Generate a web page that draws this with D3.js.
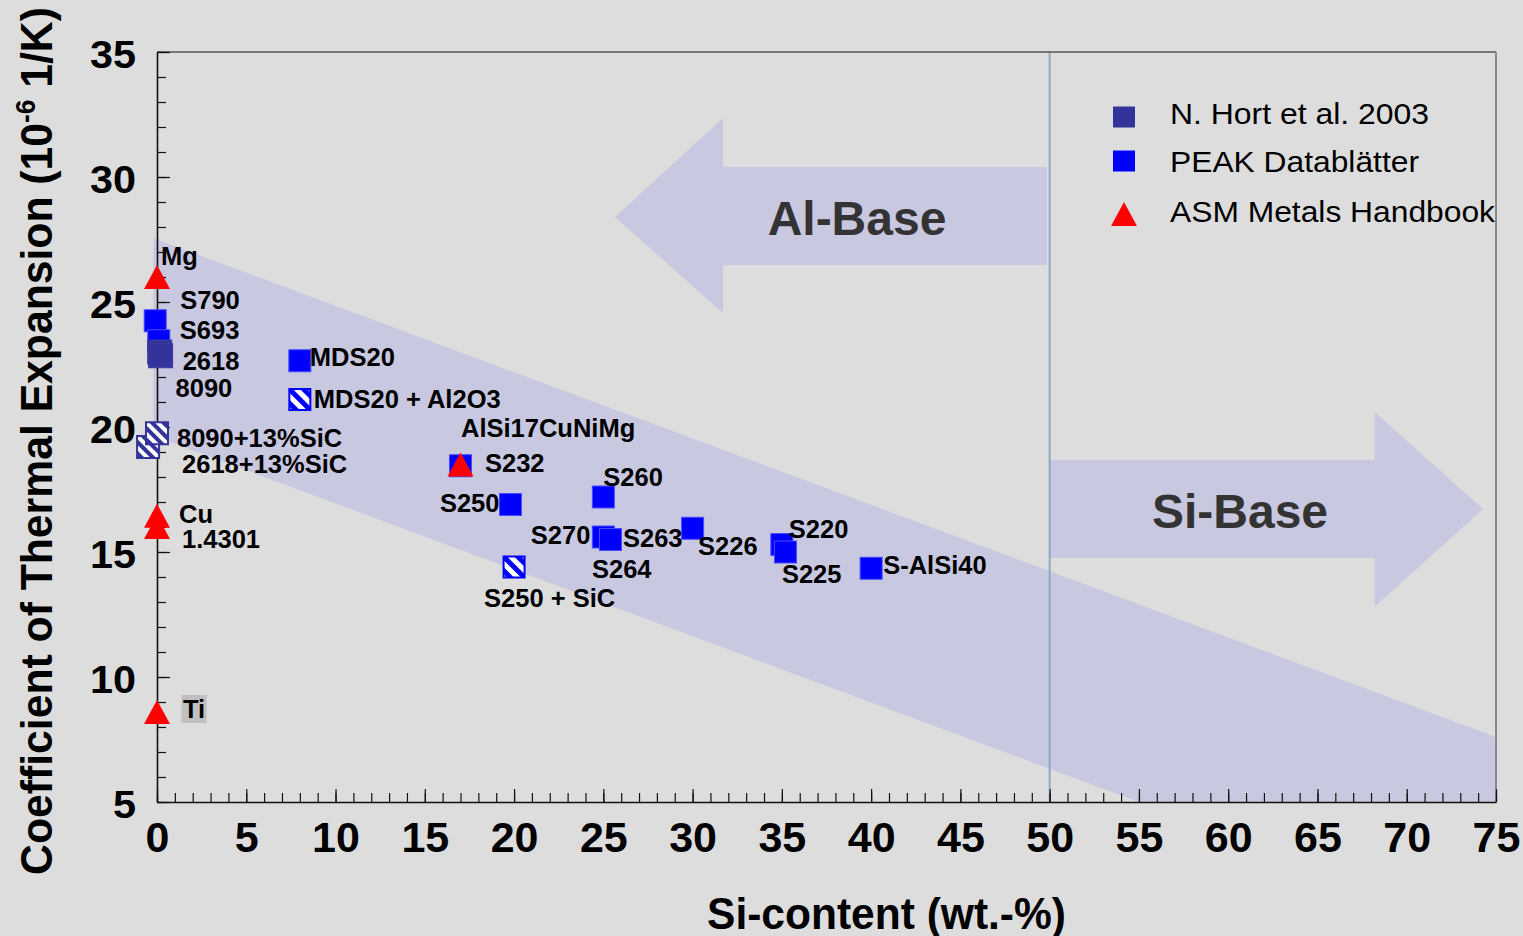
<!DOCTYPE html>
<html>
<head>
<meta charset="utf-8">
<title>Coefficient of Thermal Expansion vs. Si-content</title>
<script src="https://cdn.jsdelivr.net/npm/d3@7"></script>
<style>
  html, body { margin: 0; padding: 0; background: #dddddd; }
  svg { display: block; }
</style>
</head>
<body>
<svg id="chart" width="1523" height="936"></svg>
<script>
// ---- Data: Si-content (wt.-%) and CTE (10^-6 1/K) ----
// N. Hort et al. 2003 (monolithic alloys)
const hortNames = ["2618", "8090"];
const hortSi    = [0.15, 0.2];
const hortCte   = [23.0, 22.85];
// N. Hort et al. 2003 (SiC reinforced)
const hortCompNames = ["2618+13%SiC", "8090+13%SiC"];
const hortCompSi    = [-0.5, 0];
const hortCompCte   = [19.2, 19.75];
// PEAK Datablätter (spray-formed alloys)
const peakNames = ["S790", "S693", "MDS20", "S232", "S250", "S260", "S270", "S263", "S264", "S226", "S220", "S225", "S-AlSi40"];
const peakSi    = [-0.1, 0.1, 8, 17, 19.8, 25, 25, 25.4, 25.4, 30, 35, 35.2, 40];
const peakCte   = [24.25, 23.45, 22.65, 18.45, 16.9, 17.2, 15.6, 15.5, 15.5, 15.95, 15.3, 15.0, 14.35];
// PEAK Datablätter (particle reinforced)
const peakCompNames = ["MDS20 + Al2O3", "S250 + SiC"];
const peakCompSi    = [8, 20];
const peakCompCte   = [21.1, 14.4];
// ASM Metals Handbook (reference metals)
const asmNames = ["Mg", "Cu", "1.4301", "AlSi17CuNiMg", "Ti"];
const asmSi    = [0, 0, 0, 17, 0];
const asmCte   = [26.0, 16.45, 16.0, 18.5, 8.6];

// Axis ticks
const xMajorTicks = d3.range(0, 76, 5);
const xMinorTicks = d3.range(0, 76, 1);
const yMajorTicks = d3.range(5, 36, 5);
const yMinorTicks = d3.range(5, 36, 1);

// Trend band (Si, CTE) and the two region arrows
const trendBand = [[-0.2, 27.55], [75, 7.6], [75, 5], [55, 5], [-0.2, 19.65]];
const alArrow = [[25.65, 28.4], [31.7, 32.36], [31.7, 30.4], [49.85, 30.4], [49.85, 26.48], [31.7, 26.48], [31.7, 24.56]];
const siArrow = [[50, 18.68], [68.2, 18.68], [68.2, 20.6], [74.27, 16.72], [68.2, 12.8], [68.2, 14.76], [50, 14.76]];
const regionSplit = 50;

const legendItems = ["N. Hort et al. 2003", "PEAK Datablätter", "ASM Metals Handbook"];

// ---- Layout ----
const W = 1523, H = 936;
const plot = { left: 157, right: 1496, top: 52, bottom: 802 };
const x = d3.scaleLinear().domain([0, 75]).range([plot.left, plot.right]);
const y = d3.scaleLinear().domain([5, 35]).range([plot.bottom, plot.top]);

const BAND = "#c8c8e0";
const FONT = "'Liberation Sans', Arial, Helvetica, sans-serif";

// label placement around each point: [dx, dy, anchor] in px
const labelPlacement = {
  "Mg": [4, -12, "start"],
  "S790": [25, -12, "start"],
  "S693": [21, -2, "start"],
  "2618": [23, 18, "start"],
  "8090": [15, 41, "start"],
  "8090+13%SiC": [20, 14, "start"],
  "2618+13%SiC": [34, 26, "start"],
  "Cu": [22, 7, "start"],
  "1.4301": [25, 21, "start"],
  "Ti": [26, 6, "start"],
  "MDS20": [10, 5, "start"],
  "MDS20 + Al2O3": [14, 8.5, "start"],
  "AlSi17CuNiMg": [0.5, -27.5, "start"],
  "S232": [24.5, 6, "start"],
  "S250": [-11, 7.5, "end"],
  "S260": [0, -11, "start"],
  "S270": [-13, 7, "end"],
  "S263": [12.5, 7.5, "start"],
  "S264": [-18.5, 38.5, "start"],
  "S250 + SiC": [-30, 40, "start"],
  "S226": [5.5, 27, "start"],
  "S220": [7, -7, "start"],
  "S225": [-3.5, 31, "start"],
  "S-AlSi40": [12, 6, "start"]
};

const svg = d3.select("#chart").attr("viewBox", `0 0 ${W} ${H}`);
svg.append("rect").attr("width", W).attr("height", H).attr("fill", "#dddddd");

const defs = svg.append("defs");
defs.append("clipPath").attr("id", "clipPeakComp")
  .append("rect").attr("x", -10.5).attr("y", -10.5).attr("width", 21).attr("height", 21);
defs.append("clipPath").attr("id", "clipHortComp")
  .append("rect").attr("x", -11).attr("y", -11).attr("width", 22).attr("height", 22);

const toPx = pts => pts.map(([sx, cy]) => [x(sx), y(cy)]);
const polyLine = d3.line();

// ---- Background shapes ----
svg.append("path").attr("d", polyLine(toPx(trendBand)) + "Z").attr("fill", BAND);
svg.append("path").attr("d", polyLine(toPx(alArrow)) + "Z").attr("fill", BAND);
svg.append("path").attr("d", polyLine(toPx(siArrow)) + "Z").attr("fill", BAND);

svg.append("line")
  .attr("x1", x(regionSplit)).attr("x2", x(regionSplit))
  .attr("y1", plot.top).attr("y2", plot.bottom)
  .attr("stroke", "#8da8c8").attr("stroke-width", 2);

svg.append("text").text("Al-Base")
  .attr("x", 857).attr("y", 235).attr("text-anchor", "middle")
  .attr("font-family", FONT).attr("font-weight", "bold").attr("font-size", 48)
  .attr("fill", "#333333");
svg.append("text").text("Si-Base")
  .attr("x", 1240).attr("y", 528).attr("text-anchor", "middle")
  .attr("font-family", FONT).attr("font-weight", "bold").attr("font-size", 48)
  .attr("fill", "#333333");

// ---- Frame ----
svg.append("line").attr("x1", plot.left).attr("x2", plot.right)
  .attr("y1", plot.top).attr("y2", plot.top)
  .attr("stroke", "#555555").attr("stroke-width", 1.5);
svg.append("line").attr("x1", plot.right).attr("x2", plot.right)
  .attr("y1", plot.top).attr("y2", plot.bottom)
  .attr("stroke", "#8a8a8a").attr("stroke-width", 2);

// ---- Axes ----
const yMinor = svg.append("g").attr("transform", `translate(${plot.left},0)`)
  .call(d3.axisLeft(y).tickValues(yMinorTicks).tickSizeInner(-9).tickSizeOuter(0).tickFormat(""));
yMinor.select(".domain").remove();
const yMajor = svg.append("g").attr("transform", `translate(${plot.left},0)`)
  .call(d3.axisLeft(y).tickValues(yMajorTicks).tickSizeInner(-13).tickSizeOuter(0).tickPadding(21));

const xMinor = svg.append("g").attr("transform", `translate(0,${plot.bottom})`)
  .call(d3.axisBottom(x).tickValues(xMinorTicks).tickSizeInner(-9).tickSizeOuter(0).tickFormat(""));
xMinor.select(".domain").remove();
const xMajor = svg.append("g").attr("transform", `translate(0,${plot.bottom})`)
  .call(d3.axisBottom(x).tickValues(xMajorTicks).tickSizeInner(-13).tickSizeOuter(0));

[yMinor, yMajor, xMinor, xMajor].forEach(g => {
  g.selectAll(".tick line").attr("stroke", "#111111").attr("stroke-width", 1.2);
  g.select(".domain").attr("stroke", "#111111").attr("stroke-width", 1.6);
});

yMajor.selectAll(".tick text")
  .attr("font-family", FONT).attr("font-weight", "bold").attr("font-size", 38)
  .attr("fill", "#000").attr("dy", "0.42em")
  .attr("textLength", d => String(d).length * 23)
  .attr("lengthAdjust", "spacingAndGlyphs");

xMajor.selectAll(".tick text")
  .attr("font-family", FONT).attr("font-weight", "bold").attr("font-size", 43)
  .attr("fill", "#000").attr("y", 50).attr("dy", 0);

// Axis titles, fitted to their width
function fitWidth(sel, target) {
  const w = sel.node().getComputedTextLength();
  return target / w;
}
const yTitle = svg.append("text")
  .attr("font-family", FONT).attr("font-weight", "bold").attr("font-size", 44)
  .attr("text-anchor", "middle").attr("fill", "#000");
yTitle.append("tspan").text("Coefficient of Thermal Expansion (10");
yTitle.append("tspan").text("-6").attr("font-size", 27).attr("dy", -17);
yTitle.append("tspan").text(" 1/K)").attr("dy", 17);
const ys = fitWidth(yTitle, 868);
yTitle.attr("transform", `translate(52,441) rotate(-90) scale(${ys},1)`);

const xTitle = svg.append("text").text("Si-content (wt.-%)")
  .attr("font-family", FONT).attr("font-weight", "bold").attr("font-size", 45)
  .attr("text-anchor", "middle").attr("fill", "#000");
const xs = fitWidth(xTitle, 359);
xTitle.attr("transform", `translate(886.5,929) scale(${xs},1)`);

// ---- Marker drawing helpers ----
const trianglePath = "M0,-12L13,12L-13,12Z";

function drawSquares(names, si, cte, size, fill, stroke) {
  svg.append("g").selectAll("rect").data(names).join("rect")
    .attr("x", (d, i) => x(si[i]) - size / 2)
    .attr("y", (d, i) => y(cte[i]) - size / 2)
    .attr("width", size).attr("height", size)
    .attr("fill", fill).attr("stroke", stroke).attr("stroke-width", 1);
}

function drawHatched(names, si, cte, size, bg, stripe, border, offsets, stripeW, clipId) {
  const g = svg.append("g").selectAll("g").data(names).join("g")
    .attr("transform", (d, i) => `translate(${x(si[i])},${y(cte[i])})`);
  const inner = g.append("g").attr("clip-path", `url(#${clipId})`);
  inner.append("rect").attr("x", -size / 2).attr("y", -size / 2)
    .attr("width", size).attr("height", size).attr("fill", bg);
  offsets.forEach(o => {
    const dx = o / Math.SQRT2, dy = -o / Math.SQRT2;
    inner.append("line")
      .attr("x1", -20 + dx).attr("y1", -20 + dy)
      .attr("x2", 20 + dx).attr("y2", 20 + dy)
      .attr("stroke", stripe).attr("stroke-width", stripeW);
  });
  g.append("rect").attr("x", -size / 2).attr("y", -size / 2)
    .attr("width", size).attr("height", size)
    .attr("fill", "none").attr("stroke", border).attr("stroke-width", 2);
}

function drawTriangles(names, si, cte) {
  svg.append("g").selectAll("path").data(names).join("path")
    .attr("d", trianglePath)
    .attr("transform", (d, i) => `translate(${x(si[i])},${y(cte[i])})`)
    .attr("fill", "#ff0000");
}

// ---- Markers ----
drawSquares(peakNames, peakSi, peakCte, 22, "#0000ff", "#4a4aff");
drawHatched(peakCompNames, peakCompSi, peakCompCte, 21, "#ffffff", "#0000ff", "#0000ff", [-10, 0, 10], 5, "clipPeakComp");
drawSquares(hortNames, hortSi, hortCte, 24, "#333399", "#3b3ba0");
drawHatched(hortCompNames, hortCompSi, hortCompCte, 22, "#333399", "#ffffff", "#333399", [-8, 0, 8], 4, "clipHortComp");
drawTriangles(asmNames, asmSi, asmCte);

// ---- Point labels ----
const allNames = [].concat(peakNames, peakCompNames, hortNames, hortCompNames, asmNames);
const allSi    = [].concat(peakSi, peakCompSi, hortSi, hortCompSi, asmSi);
const allCte   = [].concat(peakCte, peakCompCte, hortCte, hortCompCte, asmCte);

const labelLayer = svg.append("g");
allNames.forEach((name, i) => {
  const p = labelPlacement[name];
  const t = labelLayer.append("text").text(name)
    .attr("x", x(allSi[i]) + p[0]).attr("y", y(allCte[i]) + p[1])
    .attr("text-anchor", p[2])
    .attr("font-family", FONT).attr("font-weight", "bold").attr("font-size", 25.5)
    .attr("fill", "#000");
  if (name === "Ti") {
    const b = t.node().getBBox();
    labelLayer.insert("rect", "text")
      .attr("x", b.x - 1.5).attr("y", b.y)
      .attr("width", b.width + 3).attr("height", b.height)
      .attr("fill", "#c0c0c0");
  }
});

// ---- Legend ----
const legend = svg.append("g");
const legendRows = [117, 161, 214];
const legendBase = [124, 172, 222];
const legendWidths = [259, 249, 325];
legend.append("rect").attr("x", 1113).attr("y", legendRows[0] - 10.5).attr("width", 22).attr("height", 21).attr("fill", "#333399");
legend.append("rect").attr("x", 1113).attr("y", legendRows[1] - 10.5).attr("width", 22).attr("height", 21).attr("fill", "#0000ff");
legend.append("path").attr("d", trianglePath).attr("transform", `translate(1124,${legendRows[2]})`).attr("fill", "#ff0000");
legendItems.forEach((txt, i) => {
  legend.append("text").text(txt)
    .attr("x", 1170).attr("y", legendBase[i])
    .attr("font-family", FONT).attr("font-size", 30).attr("fill", "#000")
    .attr("textLength", legendWidths[i]).attr("lengthAdjust", "spacingAndGlyphs");
});
</script>
</body>
</html>
